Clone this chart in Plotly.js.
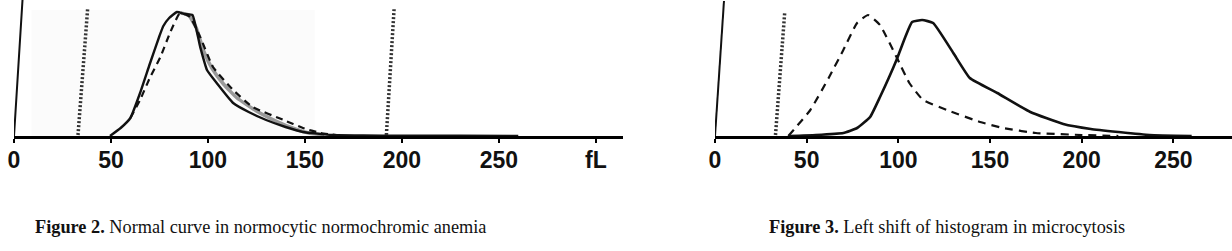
<!DOCTYPE html>
<html>
<head>
<meta charset="utf-8">
<script src="https://cdn.plot.ly/plotly-3.0.1.min.js"></script>
<style>html,body{margin:0;padding:0;background:#fff;}#chart{width:1232px;height:251px;}</style>
</head>
<body>
<div id="chart"></div>
<script>
// ---- Data (volume in fL, relative frequency) ----
const tickVals = [0, 50, 100, 150, 200, 250, 300];
const tickTextLeft = ['0', '50', '100', '150', '200', '250', 'fL'];
const tickTextRight = ['0', '50', '100', '150', '200', '250', ''];

// Figure 2 – normocytic normochromic
const f2SolidX = [49.5, 55, 60, 65, 70, 75, 77, 80, 84, 88, 92, 96, 99.5, 104.5, 113, 121, 130, 140, 149, 164, 180, 200, 230, 260];
const f2SolidY = [0, 8, 18, 43, 72, 100, 110, 118, 124, 122, 121, 89, 66, 53, 33, 24, 16, 9, 4, 1, 0.5, 0.3, 0.2, 0];
const f2GrayX = [86, 90, 94, 98, 102, 108, 115, 125, 135, 145, 152, 160];
const f2GrayY = [123, 121, 108, 84, 68, 52, 38, 25, 15, 7, 3, 1];
const f2DashX = [60, 65, 70, 75.5, 80.4, 85.6, 90.7, 96, 102.6, 113, 123, 139, 149, 158, 170];
const f2DashY = [18, 36, 58, 79, 103, 123, 119, 99, 69, 46, 29, 16, 8, 3, 0];
const f2Markers = [[33, 38], [192, 196]];   // dotted discriminator lines (bottom, top)

// Figure 3 – microcytosis
const f3SolidX = [40, 55, 70, 77.5, 84.6, 90, 99, 104, 107.5, 113, 119, 130, 139, 154, 172, 190, 205, 220, 237, 260];
const f3SolidY = [0, 1, 3, 8, 19, 39, 76, 100, 114, 116, 113, 83, 58, 43, 24, 12, 7, 4, 1, 0];
const f3DashX = [40, 52, 62, 70, 77.5, 83.5, 90, 99, 106, 113.5, 126.5, 144.6, 157, 175, 200, 220];
const f3DashY = [0, 26, 58, 86, 113, 121, 111, 79, 53, 36, 26, 14, 8, 3, 1, 0];
const f3Markers = [[33, 38]];

const captionLeft = '<b>Figure 2.</b> Normal curve in normocytic normochromic anemia';
const captionRight = '<b>Figure 3.</b> Left shift of histogram in microcytosis';

// ---- Layout constants ----
const W = 1232, H = 251, BASE = 136;
const yTop = 136;
const leftDom = [14 / W, 623 / W];
const rightDom = [715 / W, 1];

function line(x, y, xa, ya, color, width, dash) {
  return {x: x, y: y, xaxis: xa, yaxis: ya, type: 'scatter', mode: 'lines',
          line: {color: color, width: width, dash: dash || 'solid', shape: 'spline', smoothing: 0.4},
          hoverinfo: 'skip', showlegend: false};
}

const traces = [
  line(f2GrayX, f2GrayY, 'x', 'y', '#9a9a9a', 3.5),
  line(f2SolidX, f2SolidY, 'x', 'y', '#111', 2.4),
  line(f2DashX, f2DashY, 'x', 'y', '#111', 2.2, '7px,5px'),
  line(f3SolidX, f3SolidY, 'x2', 'y2', '#111', 2.6),
  line(f3DashX, f3DashY, 'x2', 'y2', '#111', 2.2, '8px,6px')
];

const xaxisBase = {
  tickmode: 'array', tickvals: tickVals, ticks: 'outside', ticklen: 4, tickwidth: 2, tickcolor: '#000',
  showline: true, linecolor: '#000', linewidth: 2.5, showgrid: false, zeroline: false,
  tickfont: {family: 'Liberation Sans, Arial, sans-serif', size: 23, color: '#111', weight: 'bold'},
  ticklabelstandoff: -2, fixedrange: true
};
const yaxisBase = {range: [0, yTop], domain: [1 - BASE / H, 1], visible: false, fixedrange: true};

const shapes = [];
// slanted y-axis lines
shapes.push({type: 'line', xref: 'x', yref: 'y', x0: 0, y0: 0, x1: 4.4, y1: yTop, line: {color: '#111', width: 2}});
shapes.push({type: 'line', xref: 'x2', yref: 'y2', x0: 0, y0: 0, x1: 4.9, y1: yTop - 1, line: {color: '#111', width: 2}});
// very faint gray background region in fig 2
shapes.push({type: 'rect', xref: 'x', yref: 'y', x0: 9, x1: 155, y0: 0, y1: 126, fillcolor: '#fbfbfb', line: {width: 0}, layer: 'below'});
f2Markers.forEach(m => shapes.push({type: 'line', xref: 'x', yref: 'y', x0: m[0], y0: 1, x1: m[1], y1: 128,
  line: {color: '#333', width: 3.5, dash: '2px,2px'}}));
f3Markers.forEach(m => shapes.push({type: 'line', xref: 'x2', yref: 'y2', x0: m[0], y0: 1, x1: m[1], y1: 123,
  line: {color: '#333', width: 3.5, dash: '2px,2px'}}));

const layout = {
  width: W, height: H, margin: {l: 0, r: 0, t: 0, b: 0},
  paper_bgcolor: '#fff', plot_bgcolor: 'rgba(0,0,0,0)', showlegend: false,
  xaxis: Object.assign({}, xaxisBase, {domain: leftDom, range: [0, 314], ticktext: tickTextLeft, anchor: 'y'}),
  yaxis: Object.assign({}, yaxisBase, {anchor: 'x'}),
  xaxis2: Object.assign({}, xaxisBase, {domain: rightDom, range: [0, 282], ticktext: tickTextRight, anchor: 'y2'}),
  yaxis2: Object.assign({}, yaxisBase, {anchor: 'x2'}),
  shapes: shapes,
  annotations: [
    {text: captionLeft, xref: 'paper', yref: 'paper', x: 260 / W, y: 1 - 227 / H, xanchor: 'center', yanchor: 'middle',
     showarrow: false, font: {family: 'Liberation Serif, Times New Roman, serif', size: 18.3, color: '#111'}},
    {text: captionRight, xref: 'paper', yref: 'paper', x: 947 / W, y: 1 - 227 / H, xanchor: 'center', yanchor: 'middle',
     showarrow: false, font: {family: 'Liberation Serif, Times New Roman, serif', size: 18.3, color: '#111'}}
  ]
};

Plotly.newPlot('chart', traces, layout, {staticPlot: true, displayModeBar: false});
</script>
</body>
</html>
